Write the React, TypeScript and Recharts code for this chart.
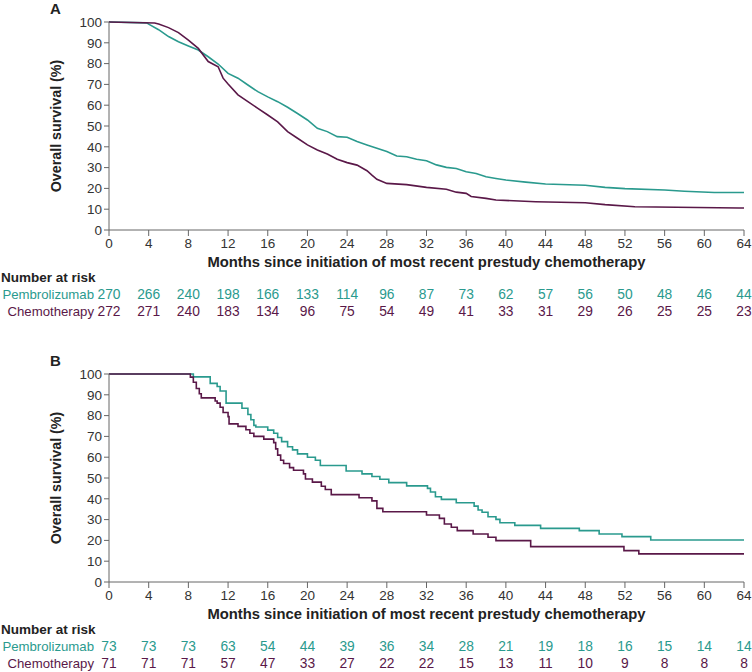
import React from 'react';
import { LineChart, Line, XAxis, YAxis } from 'recharts';

// Kaplan-Meier curves: [month, overall survival %]
const pembroA: [number, number][] = [
  [0, 100], [3.8, 99.6], [4, 99], [5, 96.3], [6, 93], [7, 90.5], [8, 88.5], [9, 86.5],
  [10, 83.3], [11, 79.8], [12, 75.3], [13, 73], [14, 69.7], [15, 66.5], [16, 64],
  [17, 61.7], [18, 59], [19, 56], [20, 52.9], [21, 48.9], [22, 47.3], [23, 44.9],
  [24, 44.6], [25, 42.5], [26, 40.9], [27, 39.3], [28, 37.7], [29, 35.6], [30, 35.2],
  [31, 34], [32, 33.3], [33, 31.3], [34, 30.1], [35, 29.6], [36, 28], [37, 27.2],
  [38, 25.6], [39, 24.8], [40, 24], [42, 23], [44, 22.1], [48, 21.5], [50, 20.5],
  [52, 19.9], [56, 19.2], [58, 18.6], [61, 18], [64, 18],
];
const chemoA: [number, number][] = [
  [0, 100], [4.6, 99.5], [5, 99], [6, 97.3], [7, 94.9], [8, 91.3], [9, 87.3], [10, 81],
  [11, 78.5], [11.5, 73], [12, 70.2], [13, 65], [14, 61.7], [15, 58.5], [16, 55.3],
  [17, 52], [18, 47.3], [19, 44.1], [20, 40.9], [21, 38.5], [22, 36.5], [23, 34],
  [24, 32.4], [25, 31.2], [26, 28.5], [26.5, 26.4], [27, 24.4], [28, 22.4], [30, 21.8],
  [32, 20.5], [34, 19.6], [35, 18.2], [36, 17.6], [36.5, 16.1], [38, 15.2], [39, 14.4],
  [43, 13.6], [48, 13.1], [50, 12.2], [53, 11.2], [63.5, 10.6], [64, 10.6],
];
const pembroB: [number, number][] = [
  [0, 100], [8.5, 98.6], [10.2, 95.5], [10.9, 94], [11.2, 91.8], [11.8, 86], [13.4, 83.5],
  [14, 80.5], [14.3, 78], [14.6, 75.3], [14.8, 74.5], [16, 73], [16.6, 71.5], [17, 69.5],
  [17.4, 67.5], [18, 65], [18.5, 63.5], [19, 61.6], [20, 60], [20.8, 58.5], [21.3, 56],
  [23.9, 53.4], [25.5, 52], [26.5, 50.7], [27.3, 49.4], [28.2, 47.8], [30, 46.2],
  [32.1, 45], [32.4, 43.3], [32.9, 41], [33.5, 39.7], [35, 38.1], [36.8, 36.5],
  [37.2, 34.6], [37.6, 33.5], [38.2, 31.4], [39, 30.1], [39.4, 28.5], [40.9, 27.2],
  [43.5, 25.8], [47.4, 24.7], [49.4, 23.1], [51.7, 21.8], [54.6, 20.2], [64, 20.2],
];
const chemoB: [number, number][] = [
  [0, 100], [8.2, 98.5], [8.5, 96], [8.8, 93], [9.1, 90.5], [9.3, 88.5], [10.7, 87],
  [10.9, 86], [11.2, 84], [11.5, 81.5], [12, 79.5], [12.1, 76], [13, 74.8], [13.8, 73.2],
  [14.2, 71.5], [14.6, 70], [15.6, 68.7], [16.6, 67], [16.8, 64], [17, 61], [17.3, 58.5],
  [17.6, 57], [18.2, 55], [18.6, 53.7], [19.6, 52], [19.8, 49.5], [20.5, 48], [21.4, 46],
  [21.8, 44.5], [22.4, 42], [25.2, 40.5], [26.5, 39], [27, 35.4], [27.6, 33.8], [32, 32.2],
  [33.3, 30.6], [33.8, 27.9], [34.5, 26.3], [35.1, 24.7], [36.7, 23.1], [38.2, 21.5],
  [39, 19.9], [42.5, 17], [51.9, 15.1], [53.4, 13.5], [64, 13.5],
];

const monthTicks = [0, 4, 8, 12, 16, 20, 24, 28, 32, 36, 40, 44, 48, 52, 56, 60, 64];
const survivalTicks = [0, 10, 20, 30, 40, 50, 60, 70, 80, 90, 100];

// Number at risk, one value per month tick
const riskPembroA = [270, 266, 240, 198, 166, 133, 114, 96, 87, 73, 62, 57, 56, 50, 48, 46, 44];
const riskChemoA = [272, 271, 240, 183, 134, 96, 75, 54, 49, 41, 33, 31, 29, 26, 25, 25, 23];
const riskPembroB = [73, 73, 73, 63, 54, 44, 39, 36, 34, 28, 21, 19, 18, 16, 15, 14, 14];
const riskChemoB = [71, 71, 71, 57, 47, 33, 27, 22, 22, 15, 13, 11, 10, 9, 8, 8, 8];

const TEAL = '#2a9a8e';
const PURPLE = '#5a1848';
const TEXT = '#333';
const FONT = '"Liberation Sans", Arial, sans-serif';

const toPoints = (rows: [number, number][]) => rows.map(([m, s]) => ({ m, s }));

const RiskTick = (props: any) => {
  const { x, y, payload, pembro, chemo } = props;
  const i = monthTicks.indexOf(payload.value);
  return (
    <g fontFamily={FONT}>
      <text x={x} y={y} dy="0.71em" textAnchor="middle" fill={TEXT} fontSize={13.5}>{payload.value}</text>
      {i === 0 && (
        <>
          <text x={x - 108} y={y + 43.5} textAnchor="start" fill="#222" fontWeight="bold" fontSize={13.5}>Number at risk</text>
          <text x={x - 15} y={y + 60.5} textAnchor="end" fill={TEAL} fontSize={13.2}>Pembrolizumab</text>
          <text x={x - 15} y={y + 77.5} textAnchor="end" fill={PURPLE} fontSize={13.2}>Chemotherapy</text>
        </>
      )}
      <text x={x} y={y + 60.5} textAnchor="middle" fill={TEAL} fontSize={13.8}>{pembro[i]}</text>
      <text x={x} y={y + 77.5} textAnchor="middle" fill={PURPLE} fontSize={13.8}>{chemo[i]}</text>
    </g>
  );
};

const YTitle = (props: any) => {
  const { viewBox } = props;
  const cx = viewBox.x + 7;
  const cy = viewBox.y + viewBox.height / 2;
  return (
    <text x={cx} y={cy} transform={`rotate(-90 ${cx} ${cy})`} textAnchor="middle" dominantBaseline="central"
      fontFamily={FONT} fontSize={14.3} fontWeight="bold" fill="#222">
      Overall survival (%)
    </text>
  );
};

interface PanelProps {
  letter: string;
  pembro: [number, number][];
  chemo: [number, number][];
  riskPembro: number[];
  riskChemo: number[];
  height: number;
  axisHeight: number;
  step: boolean;
}

const Panel = ({ letter, pembro, chemo, riskPembro, riskChemo, height, axisHeight, step }: PanelProps) => (
  <div style={{ position: 'relative', width: 752, height }}>
    <div style={{ position: 'absolute', left: 50, top: 0, fontFamily: FONT, fontWeight: 'bold', fontSize: 15, color: '#222' }}>
      {letter}
    </div>
    <LineChart width={752} height={height} margin={{ top: 22, right: 8, left: 49, bottom: 0 }}>
      <XAxis
        type="number"
        dataKey="m"
        domain={[0, 64]}
        ticks={monthTicks}
        interval={0}
        height={axisHeight}
        stroke="#666"
        tickSize={6}
        tickMargin={2}
        tick={(p: any) => <RiskTick {...p} pembro={riskPembro} chemo={riskChemo} />}
        label={{
          value: 'Months since initiation of most recent prestudy chemotherapy',
          position: 'insideTop',
          offset: 26,
          fontFamily: FONT,
          fontSize: 14.8,
          fontWeight: 'bold',
          fill: '#222',
        }}
        allowDuplicatedCategory={false}
      />
      <YAxis
        type="number"
        domain={[0, 100]}
        ticks={survivalTicks}
        interval={0}
        width={60}
        stroke="#666"
        tickSize={5}
        tick={{ fontFamily: FONT, fontSize: 13.5, fill: TEXT }}
        label={<YTitle />}
      />
      <Line
        data={toPoints(pembro)}
        dataKey="s"
        type={step ? 'stepAfter' : 'linear'}
        stroke={TEAL}
        strokeWidth={1.6}
        dot={false}
        isAnimationActive={false}
      />
      <Line
        data={toPoints(chemo)}
        dataKey="s"
        type={step ? 'stepAfter' : 'linear'}
        stroke={PURPLE}
        strokeWidth={1.6}
        dot={false}
        isAnimationActive={false}
      />
    </LineChart>
  </div>
);

export default function App() {
  return (
    <div style={{ position: 'absolute', left: 0, top: 0, width: 752, height: 672, background: '#fff' }}>
      <Panel letter="A" pembro={pembroA} chemo={chemoA} riskPembro={riskPembroA} riskChemo={riskChemoA}
        height={336} axisHeight={106} step={false} />
      <div style={{ height: 16 }} />
      <Panel letter="B" pembro={pembroB} chemo={chemoB} riskPembro={riskPembroB} riskChemo={riskChemoB}
        height={320} axisHeight={90} step={true} />
    </div>
  );
}
